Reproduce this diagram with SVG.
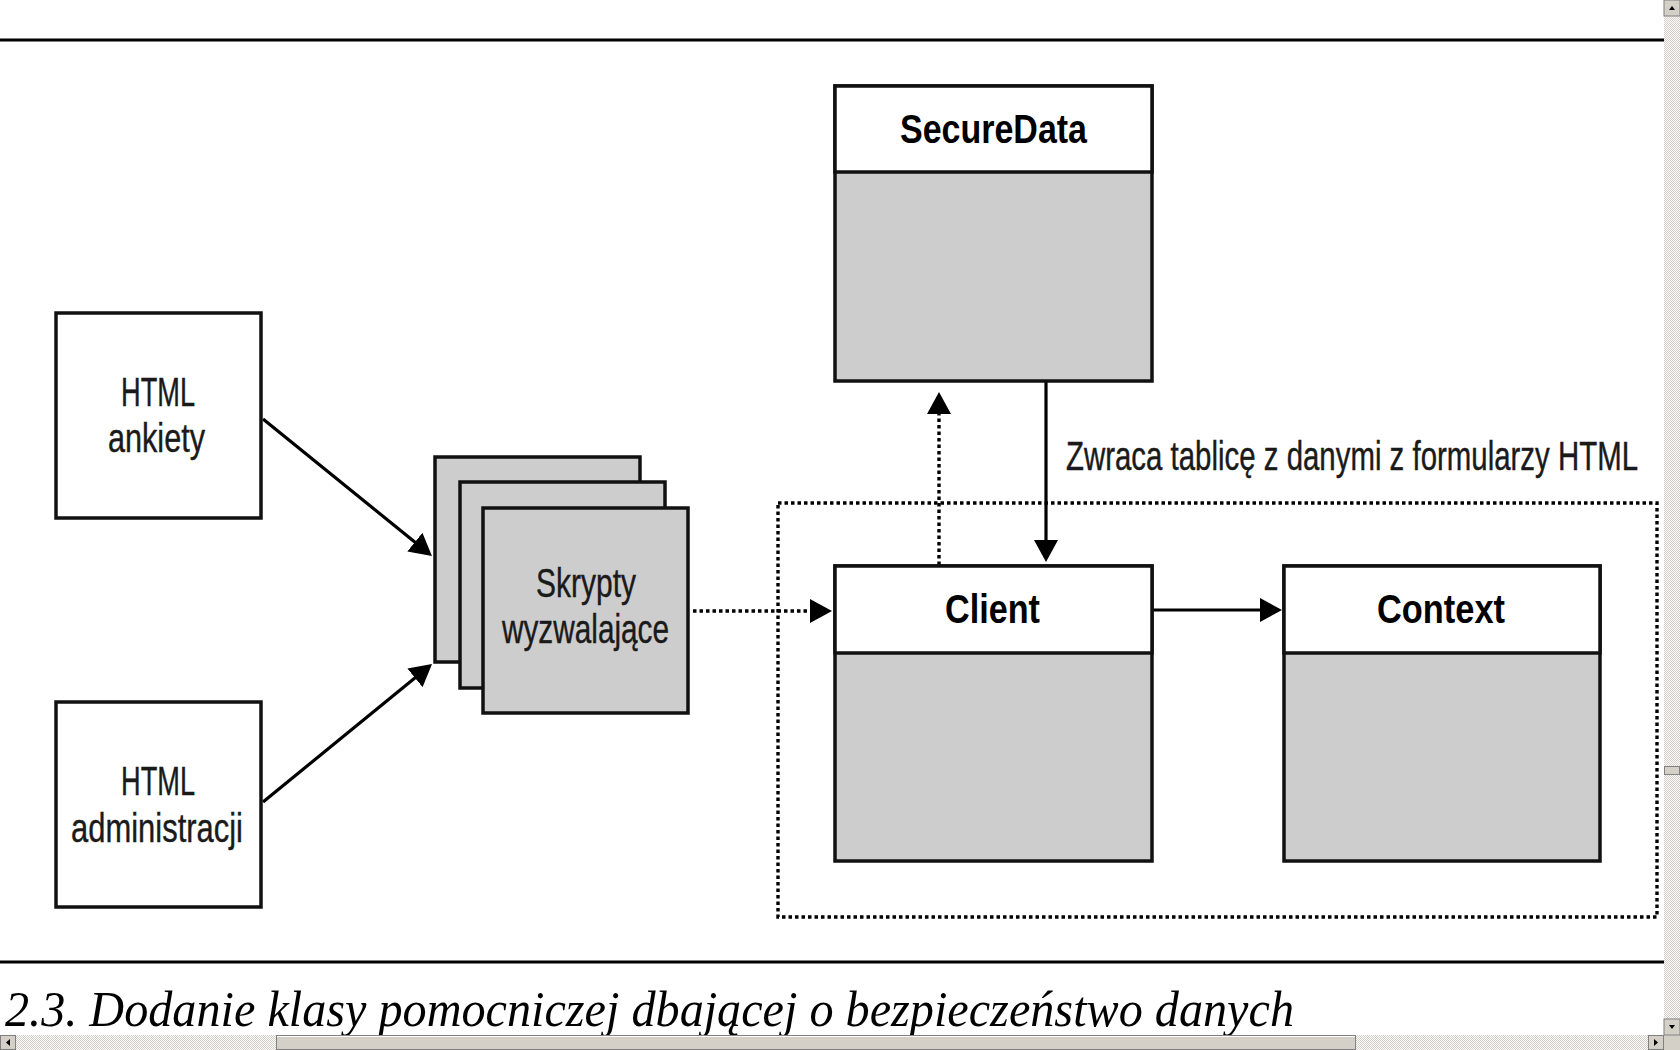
<svg xmlns="http://www.w3.org/2000/svg" width="1680" height="1050" viewBox="0 0 1680 1050">
<style>
.box{fill:#fff;stroke:#111;stroke-width:3.5}
.gbox{fill:#cdcdcd;stroke:#111;stroke-width:3.5}
.lbl{font-family:"Liberation Sans Narrow","Liberation Sans",Arial,sans-serif;font-size:40px;fill:#1a1a1a;stroke:#1a1a1a;stroke-width:0.4}
.ttl{font-family:"Liberation Sans Narrow","Liberation Sans",Arial,sans-serif;font-size:40px;font-weight:bold;fill:#000}
.solid{fill:none;stroke:#000;stroke-width:3.2}
.dot{fill:none;stroke:#000;stroke-width:3.4;stroke-dasharray:3.5 3}
.cap{font-family:"Liberation Serif","Times New Roman",serif;font-style:italic;font-size:50px;fill:#000}
.btn{fill:#d4d0c8}
</style>
<defs>
<marker id="ah" markerUnits="userSpaceOnUse" markerWidth="22" markerHeight="24" viewBox="0 0 22 24" refX="3" refY="12" orient="auto">
<path d="M0,0 L22,12 L0,24 z" fill="#000"/>
</marker>
<pattern id="dither" width="2" height="2" patternUnits="userSpaceOnUse">
<rect width="2" height="2" fill="#fff"/><rect width="1" height="1" fill="#d4d0c8"/><rect x="1" y="1" width="1" height="1" fill="#d4d0c8"/>
</pattern>
</defs>
<rect width="1680" height="1050" fill="#fff"/>
<line x1="0" y1="40" x2="1664" y2="40" stroke="#000" stroke-width="3"/>
<line x1="0" y1="962" x2="1664" y2="962" stroke="#000" stroke-width="3"/>

<rect id="boundary" x="778" y="503" width="879" height="414" class="dot"/>

<g id="connectors">
<line x1="263" y1="419" x2="417.2" y2="544" class="solid" marker-end="url(#ah)"/>
<line x1="263" y1="802" x2="417.3" y2="676" class="solid" marker-end="url(#ah)"/>
<line x1="693" y1="611" x2="813" y2="611" class="dot" marker-end="url(#ah)"/>
<line x1="939" y1="565" x2="939" y2="411" class="dot" marker-end="url(#ah)"/>
<line x1="1046" y1="381" x2="1046" y2="543" class="solid" marker-end="url(#ah)"/>
<line x1="1153" y1="610" x2="1263" y2="610" class="solid" marker-end="url(#ah)"/>
<text class="lbl" transform="translate(1066,470) scale(1,1.25)" x="0" y="0" style="font-size:32px;stroke-width:0.35" textLength="572" lengthAdjust="spacingAndGlyphs">Zwraca tablicę z danymi z formularzy HTML</text>
</g>

<g id="html-ankiety">
<rect x="56" y="313" width="205" height="205" class="box"/>
<text class="lbl" x="121" y="406" textLength="74" lengthAdjust="spacingAndGlyphs">HTML</text>
<text class="lbl" x="108" y="452" textLength="97" lengthAdjust="spacingAndGlyphs">ankiety</text>
</g>

<g id="html-administracji">
<rect x="56" y="702" width="205" height="205" class="box"/>
<text class="lbl" x="121" y="795" textLength="74" lengthAdjust="spacingAndGlyphs">HTML</text>
<text class="lbl" x="71" y="842" textLength="172" lengthAdjust="spacingAndGlyphs">administracji</text>
</g>

<g id="skrypty">
<rect x="435" y="457" width="205" height="205" class="gbox"/>
<rect x="460" y="482" width="205" height="206" class="gbox"/>
<rect x="483" y="508" width="205" height="205" class="gbox"/>
<text class="lbl" x="536" y="597" textLength="100" lengthAdjust="spacingAndGlyphs">Skrypty</text>
<text class="lbl" x="502" y="643" textLength="167" lengthAdjust="spacingAndGlyphs">wyzwalające</text>
</g>

<g id="securedata">
<rect x="835" y="86" width="317" height="295" class="gbox"/>
<rect x="835" y="86" width="317" height="86" class="box"/>
<text class="ttl" x="900" y="143" textLength="187" lengthAdjust="spacingAndGlyphs">SecureData</text>
</g>

<g id="client">
<rect x="835" y="566" width="317" height="295" class="gbox"/>
<rect x="835" y="566" width="317" height="87" class="box"/>
<text class="ttl" x="945" y="623" textLength="95" lengthAdjust="spacingAndGlyphs">Client</text>
</g>

<g id="context">
<rect x="1284" y="566" width="316" height="295" class="gbox"/>
<rect x="1284" y="566" width="316" height="87" class="box"/>
<text class="ttl" x="1377" y="623" textLength="128" lengthAdjust="spacingAndGlyphs">Context</text>
</g>

<text class="cap" x="5" y="1026" textLength="1289" lengthAdjust="spacingAndGlyphs">2.3. Dodanie klasy pomocniczej dbającej o bezpieczeństwo danych</text>

<g id="scrollbars">
<rect x="1664" y="0" width="16" height="1035" fill="url(#dither)"/>
<rect x="0" y="1035" width="1664" height="15" fill="url(#dither)"/>
<rect x="1664" y="1035" width="16" height="15" class="btn"/>
<g>
<rect x="1664" y="0" width="16" height="16" class="btn" stroke="#808080" stroke-width="1"/>
<path d="M1669,10 L1675,10 L1672,6 z" fill="#000"/>
</g>
<g>
<rect x="1664" y="1019" width="16" height="16" class="btn" stroke="#808080" stroke-width="1"/>
<path d="M1669,1025 L1675,1025 L1672,1029 z" fill="#000"/>
</g>
<rect x="1664.5" y="766.5" width="15" height="8" class="btn" stroke="#808080" stroke-width="1"/>
<g>
<rect x="0.5" y="1035.5" width="15" height="14" class="btn" stroke="#808080" stroke-width="1"/>
<path d="M10,1039 L10,1046 L6,1042.5 z" fill="#000"/>
</g>
<g>
<rect x="1648.5" y="1035.5" width="15" height="14" class="btn" stroke="#808080" stroke-width="1"/>
<path d="M1654,1039 L1654,1046 L1658,1042.5 z" fill="#000"/>
</g>
<rect x="276.5" y="1035.5" width="1079" height="14" class="btn" stroke="#808080" stroke-width="1"/>
<line x1="277" y1="1036.5" x2="1355" y2="1036.5" stroke="#fff" stroke-width="1"/>
</g>
</svg>
